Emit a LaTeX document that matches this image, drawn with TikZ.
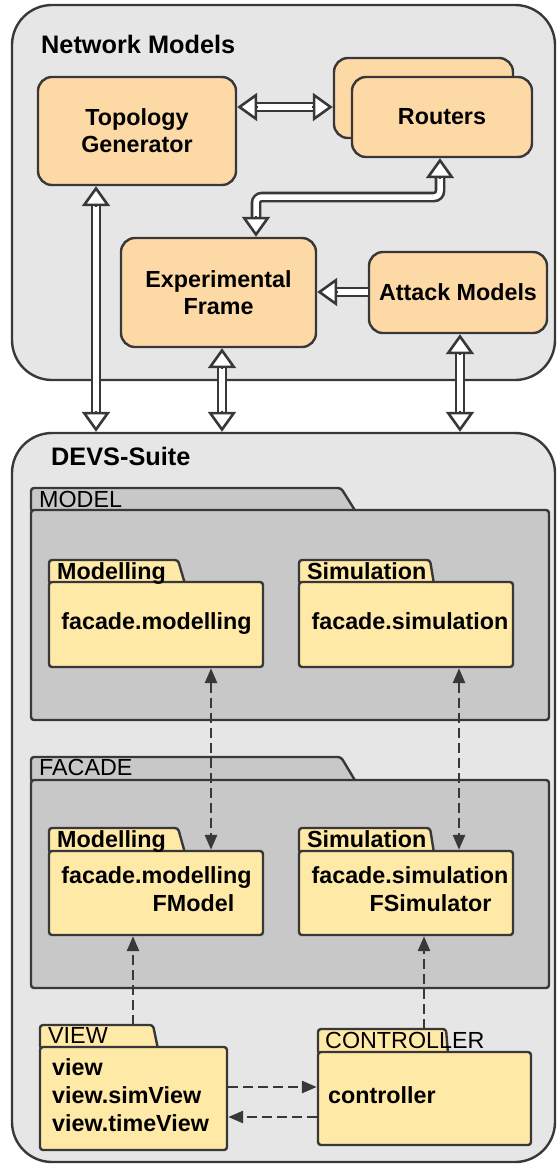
\documentclass[tikz,border=0pt]{standalone}
\usepackage{fontspec}
\setmainfont{Liberation Sans}
\usetikzlibrary{arrows.meta,calc}
\definecolor{bggray}{HTML}{E6E6E6}
\definecolor{pkgray}{HTML}{C8C8C8}
\definecolor{peach}{HTML}{FDD9A6}
\definecolor{pkyellow}{HTML}{FFE9A6}
\definecolor{edge}{HTML}{383838}
\tikzset{
  bigbox/.style={draw=edge, line width=2.4pt, fill=bggray, rounded corners=40pt, inner sep=0pt},
  obox/.style={draw=edge, line width=2.4pt, fill=peach, rounded corners=14pt, inner sep=0pt,
    align=center, font=\fontsize{23.3}{27}\selectfont\bfseries},
  title/.style={anchor=base west, inner sep=0pt, font=\fontsize{25.3}{30}\selectfont\bfseries},
  graypkg/.style={draw=edge, line width=2.4pt, fill=pkgray, rounded corners=3pt, inner sep=0pt},
  ylwpkg/.style={draw=edge, line width=2.4pt, fill=pkyellow, rounded corners=3pt, inner sep=0pt},
  tabreg/.style={anchor=base west, inner sep=0pt, font=\fontsize{23.3}{28}\selectfont},
  tabbold/.style={anchor=base west, inner sep=0pt, font=\fontsize{23.3}{28}\selectfont\bfseries},
  btext/.style={anchor=base, inner sep=0pt, font=\fontsize{23.3}{28}\selectfont\bfseries},
  dbl/.style={draw=edge, line width=2.6pt, double=white, double distance=5.5pt},
  htip/.style={draw=edge, line width=2.6pt, -{Triangle[length=20pt, width=28pt, fill=white]}},
  dsh/.style={draw=edge, line width=2.8pt, dash pattern=on 10pt off 5pt},
  dtip/.style={-{Triangle[length=15pt, width=12pt]}},
  dtips/.style={{Triangle[length=15pt, width=12pt]}-{Triangle[length=15pt, width=12pt]}}
}
\begin{document}
\begin{tikzpicture}[x=1pt,y=-1pt]
\useasboundingbox (0,0) rectangle (557,1168);

% ---------- Network Models ----------
\node[bigbox, minimum width=543pt, minimum height=375pt] (nm) at (283.5,192.5) {};
\node[title] (nmt) at (41,53) {Network Models};
\node[obox, minimum width=198pt, minimum height=108pt] (topo) at (137,131) {Topology\\Generator};
\node[obox, minimum width=179pt, minimum height=80pt] (rback) at (423.5,98) {};
\node[obox, minimum width=180pt, minimum height=80pt] (rfront) at (442,117) {Routers};
\node[obox, minimum width=195pt, minimum height=109pt] (ef) at (218.5,292.5) {Experimental\\Frame};
\node[obox, minimum width=178pt, minimum height=81pt] (att) at (458,292.5) {Attack Models};

% ---------- DEVS-Suite ----------
\node[bigbox, minimum width=543pt, minimum height=729pt] (devs) at (283.5,797.5) {};
\node[title] (devst) at (51,465) {DEVS-Suite};

% MODEL package
\draw[graypkg] (31,512) -- (31,488) -- (341,488) -- (356,512) -- cycle;
\node[graypkg, minimum width=518pt, minimum height=210pt] (mbody) at (290,615) {};
\node[tabreg] (mlab) at (39,507) {MODEL};

\draw[ylwpkg] (49,584) -- (49,560) -- (178,560) -- (185,584) -- cycle;
\node[ylwpkg, minimum width=214pt, minimum height=85pt] (mmod) at (156,624.5) {};
\node[tabbold] (mmodl) at (57,579) {Modelling};
\node[btext] (mmodt) at (156.5,629) {facade.modelling};

\draw[ylwpkg] (299,584) -- (299,560) -- (430,560) -- (434,584) -- cycle;
\node[ylwpkg, minimum width=214pt, minimum height=85pt] (msim) at (406,624.5) {};
\node[tabbold] (msiml) at (307,579) {Simulation};
\node[btext] (msimt) at (410,629) {facade.simulation};

% FACADE package
\draw[graypkg] (31,782) -- (31,757) -- (341,757) -- (356,782) -- cycle;
\node[graypkg, minimum width=518pt, minimum height=208pt] (fbody) at (290,884) {};
\node[tabreg] (flab) at (39,775) {FACADE};

\draw[ylwpkg] (49,853) -- (49,828) -- (178,828) -- (185,853) -- cycle;
\node[ylwpkg, minimum width=214pt, minimum height=84pt] (fmod) at (156,893) {};
\node[tabbold] (fmodl) at (57,847) {Modelling};
\node[btext] (fmodt1) at (156.5,883) {facade.modelling};
\node[btext] (fmodt2) at (193.5,911) {FModel};

\draw[ylwpkg] (299,853) -- (299,828) -- (430,828) -- (434,853) -- cycle;
\node[ylwpkg, minimum width=214pt, minimum height=84pt] (fsim) at (406,893) {};
\node[tabbold] (fsiml) at (307,847) {Simulation};
\node[btext] (fsimt1) at (410,883) {facade.simulation};
\node[btext] (fsimt2) at (430.5,911) {FSimulator};

% VIEW package
\draw[ylwpkg] (40,1049) -- (40,1025) -- (153,1025) -- (158,1049) -- cycle;
\node[ylwpkg, minimum width=187pt, minimum height=103pt] (vbody) at (133.5,1098.5) {};
\node[tabreg] (vlab) at (48,1043) {VIEW};
\node[btext, anchor=base west] (vt1) at (52,1075) {view};
\node[btext, anchor=base west] (vt2) at (52,1103) {view.simView};
\node[btext, anchor=base west] (vt3) at (52,1131) {view.timeView};

% CONTROLLER package
\draw[ylwpkg] (318,1054) -- (318,1029) -- (446,1029) -- (448,1054) -- cycle;
\node[ylwpkg, minimum width=213pt, minimum height=93pt] (cbody) at (424.5,1098.5) {};
\node[tabreg] (clab) at (325,1048) {CONTROLLER};
\node[btext, anchor=base west] (ctext) at (328,1103) {controller};

% ---------- double (hollow) arrows ----------
\coordinate (yTR) at (0,107);
\coordinate (t1) at (topo.east |- yTR);
\coordinate (t2) at (rback.west |- yTR);
\draw[dbl, shorten <=18pt, shorten >=18pt] (t1) -- (t2);
\draw[htip] ($(t1)!21pt!(t2)$) -- (t1);
\draw[htip] ($(t2)!21pt!(t1)$) -- (t2);

\coordinate (xR) at (440,0);
\coordinate (xL) at (256,0);
\coordinate (yB) at (0,197);
\coordinate (r1) at (rfront.south -| xR);
\coordinate (e1) at (ef.north -| xL);
\draw[dbl, rounded corners=6pt, shorten <=18pt, shorten >=18pt] (r1) -- (xR |- yB) -- (xL |- yB) -- (e1);
\draw[htip] ($(r1)!21pt!(xR |- yB)$) -- (r1);
\draw[htip] ($(e1)!21pt!(xL |- yB)$) -- (e1);

\coordinate (yAE) at (0,292);
\coordinate (a1) at (att.west |- yAE);
\coordinate (a2) at (ef.east |- yAE);
\draw[dbl, shorten >=18pt] (a1) -- (a2);
\draw[htip] ($(a2)!21pt!(a1)$) -- (a2);

\coordinate (xT) at (96,0);
\coordinate (xE) at (222,0);
\coordinate (xA) at (460,0);
\foreach \src/\xx/\nm in {topo/xT/p, ef/xE/q, att/xA/s}{
  \coordinate (\nm1) at (\src.south -| \xx);
  \coordinate (\nm2) at (devs.north -| \xx);
  \draw[dbl, shorten <=18pt, shorten >=18pt] (\nm1) -- (\nm2);
  \draw[htip] ($(\nm1)!21pt!(\nm2)$) -- (\nm1);
  \draw[htip] ($(\nm2)!21pt!(\nm1)$) -- (\nm2);
}

% ---------- dashed arrows ----------
\coordinate (xM) at (211,0);
\coordinate (xS) at (459,0);
\draw[dsh, dtips] (mmod.south -| xM) -- (fmod.north -| xM);
\draw[dsh, dtips] (msim.south -| xS) -- (fsim.north -| xS);

\coordinate (vtab) at (133,1025);
\coordinate (ctab) at (424,1029);
\draw[dsh, dtip] (vtab) -- (fmod.south -| vtab);
\draw[dsh, dtip] (ctab) -- (fsim.south -| ctab);

\coordinate (y1) at (0,1087);
\coordinate (y2) at (0,1117);
\draw[dsh, dtip] (vbody.east |- y1) -- (cbody.west |- y1);
\draw[dsh, dtip] (cbody.west |- y2) -- (vbody.east |- y2);
\end{tikzpicture}
\end{document}
